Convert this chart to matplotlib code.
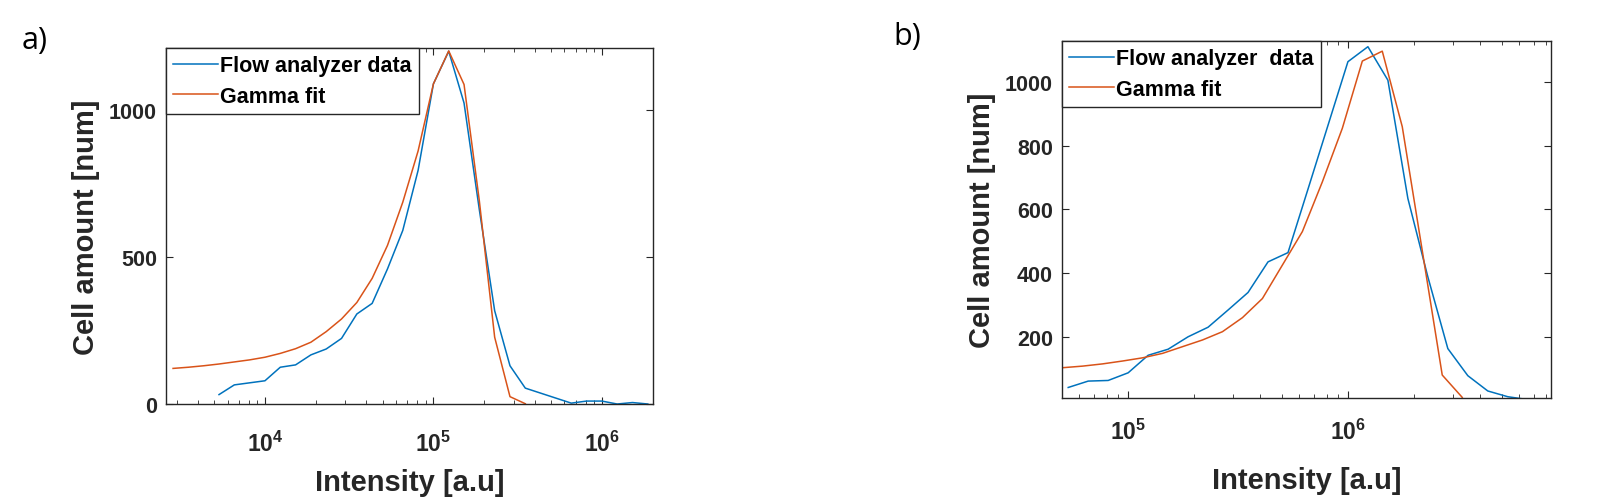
import math
import matplotlib
matplotlib.use('Agg')
import matplotlib.pyplot as plt
from matplotlib.ticker import FixedLocator, FuncFormatter, LogLocator, NullFormatter

plt.rcParams['font.family'] = ['Liberation Sans', 'DejaVu Sans']
plt.rcParams['mathtext.fontset'] = 'custom'
plt.rcParams['mathtext.rm'] = 'Liberation Sans'
plt.rcParams['mathtext.bf'] = 'Liberation Sans:bold'

# ---- panel a) data ----
a_flow_x = [5337, 6579, 8111, 10000, 12328, 15199, 18738, 23101, 28480, 35112,
            43288, 53367, 65793, 81113, 100000, 123285, 151991, 187382, 231013,
            284804, 351119, 432876, 533670, 657933, 811131, 1000000, 1232847,
            1519911, 1873817]
a_flow_y = [32, 65, 72, 79, 125, 133, 167, 187, 223, 306,
            342, 459, 590, 794, 1088, 1199, 1023, 660, 317,
            130, 54, 37, 20, 3, 10, 10, 0,
            5, 0]
a_gamma_x = [2848, 3511, 4329, 5337, 6579, 8111, 10000, 12328, 15199, 18738,
             23101, 28480, 35112, 43288, 53367, 65793, 81113, 100000, 123285,
             151991, 187382, 231013, 284804, 351119]
a_gamma_y = [121, 125, 130, 136, 143, 150, 159, 172, 188, 210,
             246, 289, 345, 427, 539, 686, 860, 1088, 1200,
             1086, 690, 227, 25, 1]

# ---- panel b) data ----
b_flow_x = [53367, 65793, 81113, 100000, 123285, 151991, 187382, 231013, 284804,
            351119, 432876, 533670, 657933, 811131, 1000000, 1232847, 1519911,
            1873817, 2310130, 2848036, 3511192, 4328761, 5336699, 6579332]
b_flow_y = [41, 61, 63, 87, 142, 161, 200, 230, 284,
            339, 435, 464, 663, 863, 1063, 1110, 1005,
            634, 388, 163, 78, 30, 12, 3]
b_gamma_x = [50350, 62070, 76520, 94330, 116300, 143400, 176700, 217900, 268600,
             331100, 408200, 503300, 620400, 764900, 943000, 1163000, 1433000,
             1767000, 2179000, 2686000, 3311000]
b_gamma_y = [103, 108, 115, 124, 134, 148, 169, 190, 216,
             260, 320, 425, 530, 686, 854, 1065, 1096,
             859, 470, 80, 10]

a_yticks = [0, 500, 1000]
b_yticks = [200, 400, 600, 800, 1000]

blue = '#0072BD'
orange = '#D95319'
dark = '#262626'

fig = plt.figure(figsize=(16.13, 5.02), dpi=100)
ax1 = fig.add_axes([0.1029, 0.1932, 0.3019, 0.7092])
ax2 = fig.add_axes([0.6584, 0.2052, 0.3032, 0.7112])


def pow_label(v, pos):
    if v <= 0:
        return ''
    return r'$\mathbf{10^{%d}}$' % int(round(math.log10(v)))


def style(ax, yticks, xpad, xlabelpad):
    ax.set_xscale('log')
    ax.xaxis.set_major_locator(LogLocator(base=10, numticks=20))
    ax.xaxis.set_minor_locator(LogLocator(base=10, subs=range(2, 10), numticks=20))
    ax.xaxis.set_minor_formatter(NullFormatter())
    ax.xaxis.set_major_formatter(FuncFormatter(pow_label))
    ax.yaxis.set_major_locator(FixedLocator(yticks))
    for s in ax.spines.values():
        s.set_color(dark)
        s.set_linewidth(1.0)
    ax.tick_params(which='both', direction='in', top=True, right=True, color=dark)
    ax.tick_params(which='major', length=5, width=0.8)
    ax.tick_params(which='minor', length=3, width=0.6)
    ax.tick_params(axis='y', labelsize=15.5, pad=6.5, labelcolor=dark)
    ax.tick_params(axis='x', labelsize=16.5, pad=xpad, labelcolor=dark)
    for t in ax.get_yticklabels():
        t.set_fontweight('bold')
    ax.set_xlabel('Intensity [a.u]', fontsize=21, fontweight='bold', color=dark,
                  labelpad=xlabelpad)
    ax.set_ylabel('Cell amount [num]', fontsize=21, fontweight='bold', color=dark)
    ax.yaxis.set_label_coords(-0.135, 0.5)
    leg = ax.legend(loc='upper left', borderaxespad=0, fancybox=False, framealpha=1,
                    edgecolor=dark, prop={'size': 15.5, 'weight': 'bold'},
                    handlelength=2.1, handletextpad=0.1, borderpad=0.33,
                    labelspacing=0.44)
    leg.get_frame().set_linewidth(1.0)


# a)
ax1.plot(a_flow_x, a_flow_y, color=blue, lw=1.1, label='Flow analyzer data')
ax1.plot(a_gamma_x, a_gamma_y, color=orange, lw=1.1, label='Gamma fit')
ax1.set_xlim(2585, 2.01e6)
ax1.set_ylim(0, 1210)
style(ax1, a_yticks, 19, 9)

# b)
ax2.plot(b_flow_x, b_flow_y, color=blue, lw=1.1, label='Flow analyzer  data')
ax2.plot(b_gamma_x, b_gamma_y, color=orange, lw=1.1, label='Gamma fit')
ax2.set_xlim(5.0e4, 8.4e6)
ax2.set_ylim(8, 1128)
style(ax2, b_yticks, 15, 16)

fig.text(22 / 1613, 1 - 41 / 502, 'a)', fontsize=22, family='Open Sans', va='center', ha='left')
fig.text(893 / 1613, 1 - 37 / 502, 'b)', fontsize=22, family='Open Sans', va='center', ha='left')

fig.savefig('out.png', dpi=100)
